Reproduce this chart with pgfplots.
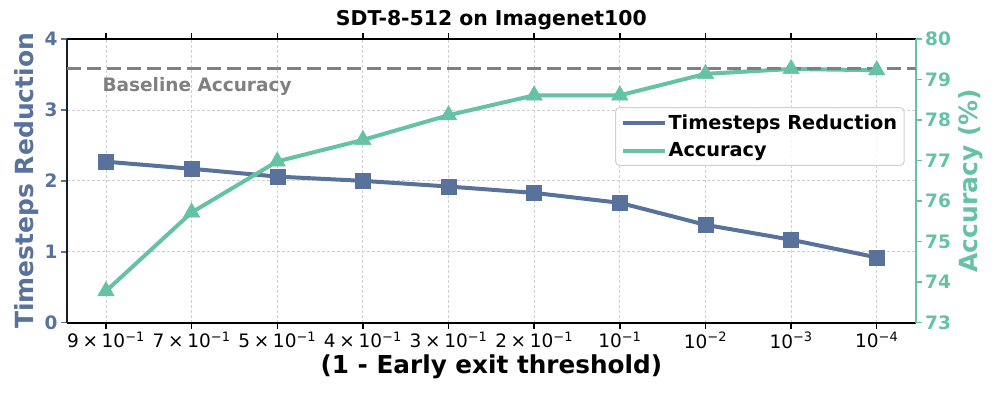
\documentclass[border=0pt]{standalone}
\usepackage{fontspec}
\setmainfont{DejaVu Sans}
\usepackage{pgfplots}
\usepackage{pgfplotstable}
\pgfplotsset{compat=1.18}

\definecolor{tsblue}{RGB}{89,114,156}
\definecolor{accgreen}{RGB}{102,194,165}
\definecolor{gridgray}{RGB}{208,208,208}
\definecolor{basegray}{RGB}{128,128,128}
\definecolor{spinedark}{RGB}{25,30,45}

% tick labels like matplotlib's mathtext: 9 x 10^-1
\newcommand{\sci}[2]{#1\hspace{0.2em}×\hspace{0.2em}10\textsuperscript{−#2}}
\newcommand{\pw}[1]{10\textsuperscript{−#1}}

% x: position of the threshold, ts: timesteps reduction, acc: accuracy (%)
\pgfplotstableread{
x  ts    acc
0  2.27  73.78
1  2.17  75.72
2  2.06  76.98
3  2.00  77.51
4  1.92  78.12
5  1.83  78.61
6  1.69  78.61
7  1.38  79.14
8  1.17  79.26
9  0.92  79.23
}\resultsdata

\begin{document}
\begin{tikzpicture}
\pgfplotsset{
  twin/.style={
    scale only axis,
    width=848.7pt, height=283.7pt,
    xmin=-0.455, xmax=9.455,
    tick align=outside,
    major tick length=6pt,
    /pgf/number format/assume math mode=true,
  },
}

\begin{axis}[twin,
  axis y line*=left,
  ymin=0, ymax=4, ytick={0,1,2,3,4},
  xtick={0,...,9},
  xticklabels={\sci{9}{1},\sci{7}{1},\sci{5}{1},\sci{4}{1},\sci{3}{1},\sci{2}{1},\pw{1},\pw{2},\pw{3},\pw{4}},
  xmajorgrids, ymajorgrids,
  grid style={gridgray, line width=0.8pt, dash pattern=on 3pt off 2pt},
  x axis line style={black, line width=1.8pt},
  y axis line style={spinedark, line width=1.8pt},
  x tick style={black, line width=1.5pt},
  y tick style={tsblue, line width=1.5pt},
  xticklabel style={font=\fontsize{18.5}{18.5}\selectfont, text=black},
  yticklabel style={font=\bfseries\fontsize{18.5}{18.5}\selectfont, text=tsblue},
  xlabel={(1 - Early exit threshold)},
  xlabel style={font=\bfseries\fontsize{24.7}{24.7}\selectfont,
    at={([yshift=-50.5pt]axis description cs:0.5,0)}, anchor=base},
  ylabel={Timesteps Reduction},
  ylabel style={font=\bfseries\fontsize{25}{25}\selectfont, text=tsblue,
    at={([xshift=-33pt]axis description cs:0,0.5)}, anchor=base},
  title={SDT-8-512 on Imagenet100},
  title style={font=\bfseries\fontsize{20.4}{20.4}\selectfont,
    at={([yshift=7.3pt]axis description cs:0.5,1)}, anchor=base},
]
\addplot[tsblue, line width=4pt, mark=square*, mark size=7.5pt,
  mark options={solid, fill=tsblue, draw=tsblue, line width=0.5pt}]
  table[x=x, y=ts]{\resultsdata};
\coordinate (sw) at (rel axis cs:0,0);
\coordinate (ne) at (rel axis cs:1,1);
\end{axis}

\begin{axis}[twin,
  axis y line*=right, axis x line=none,
  ymin=73, ymax=80, ytick={73,...,80},
  y axis line style={accgreen, line width=1.8pt},
  y tick style={accgreen, line width=1.5pt},
  yticklabel style={font=\bfseries\fontsize{18.5}{18.5}\selectfont, text=accgreen},
  ylabel={Accuracy (\%)},
  ylabel style={font=\bfseries\fontsize{25}{25}\selectfont, text=accgreen,
    at={([xshift=61.3pt]axis description cs:1,0.5)}, anchor=base},
  legend style={at={(0.987,0.76)}, anchor=north east,
    font=\bfseries\fontsize{19.3}{19.3}\selectfont,
    draw=gridgray, line width=1pt, rounded corners=4pt,
    fill=white, fill opacity=0.8, text opacity=1,
    inner xsep=5pt, inner ysep=5pt, row sep=8pt},
  legend cell align=left,
  legend image code/.code={
    \draw[mark repeat=2, mark phase=2, #1] (0pt,0pt) -- (21pt,0pt) -- (42pt,0pt);},
]
\addlegendimage{tsblue, line width=4pt, mark=square*, mark size=7.5pt,
  mark options={solid, fill=tsblue, draw=tsblue, line width=0.5pt}}
\addlegendentry{Timesteps Reduction}
\addplot[accgreen, line width=4pt, mark=triangle*, mark size=9.5pt,
  mark options={solid, fill=accgreen, draw=accgreen, line width=0.5pt}]
  table[x=x, y=acc]{\resultsdata};
\addlegendentry{Accuracy}
% baseline accuracy
\addplot[basegray, line width=2.6pt, dash pattern=on 14pt off 6pt, forget plot]
  coordinates {(-0.455,79.27) (9.455,79.27)};
\node[anchor=west, text=basegray, font=\bfseries\fontsize{18.5}{18.5}\selectfont]
  at (rel axis cs:0.0377,0.831) {Baseline Accuracy};
\end{axis}

\pgfresetboundingbox
\path[use as bounding box] ([shift={(-67pt,-76.3pt)}]sw) rectangle ([shift={(81.3pt,39pt)}]ne);
\end{tikzpicture}
\end{document}
